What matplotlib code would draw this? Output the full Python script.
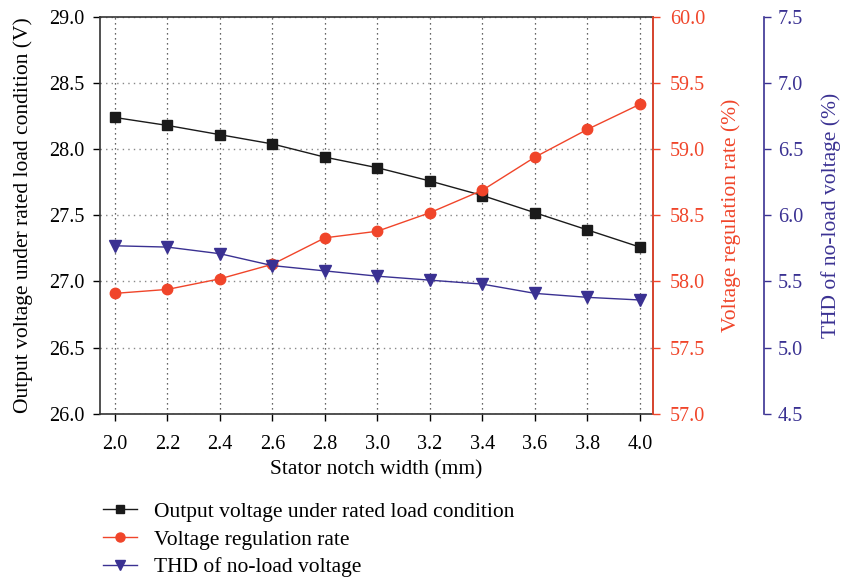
import matplotlib
matplotlib.use("Agg")
import matplotlib.pyplot as plt
from matplotlib.lines import Line2D

plt.rcParams['font.family'] = ['Liberation Serif', 'DejaVu Serif']

width = [2.0, 2.2, 2.4, 2.6, 2.8, 3.0, 3.2, 3.4, 3.6, 3.8, 4.0]
output_voltage = [28.24, 28.18, 28.11, 28.04, 27.94, 27.86, 27.76, 27.65, 27.52, 27.39, 27.26]
regulation_rate = [57.91, 57.94, 58.02, 58.13, 58.33, 58.38, 58.52, 58.69, 58.94, 59.15, 59.34]
thd = [5.77, 5.76, 5.71, 5.62, 5.58, 5.54, 5.51, 5.48, 5.41, 5.38, 5.36]

left_ticks = [26.0, 26.5, 27.0, 27.5, 28.0, 28.5, 29.0]
red_ticks = [57.0, 57.5, 58.0, 58.5, 59.0, 59.5, 60.0]
blue_ticks = [4.5, 5.0, 5.5, 6.0, 6.5, 7.0, 7.5]

labels = ["Output voltage under rated load condition",
          "Voltage regulation rate",
          "THD of no-load voltage"]

BLACK = "#1a1a1a"
RED = "#f0452a"
BLUE = "#3a3192"

fig = plt.figure(figsize=(8.45, 5.8), dpi=100)
ax = fig.add_axes([0.1183, 0.2867, 0.6545, 0.684])
ax2 = ax.twinx()
ax3 = ax.twinx()
ax3.spines['right'].set_position(('axes', 1.2007))

fs = 14.5
lfs = 15.5
ax.plot(width, output_voltage, color=BLACK, marker='s', markersize=7, lw=1.0, zorder=3)
ax2.plot(width, regulation_rate, color=RED, marker='o', markersize=7.5, lw=1.0, zorder=3)
ax3.plot(width, thd, color=BLUE, marker='v', markersize=8, lw=1.0, zorder=3)

ax.set_xlim(1.943, 4.05)
ax.set_ylim(26.0, 29.0)
ax2.set_ylim(57.0, 60.0)
ax3.set_ylim(4.5, 7.5)

ax.set_xticks(width)
ax.set_xticklabels([f"{v:.1f}" for v in width])
ax.set_yticks(left_ticks)
ax.set_yticklabels([f"{v:.1f}" for v in left_ticks])
ax2.set_yticks(red_ticks)
ax2.set_yticklabels([f"{v:.1f}" for v in red_ticks])
ax3.set_yticks(blue_ticks)
ax3.set_yticklabels([f"{v:.1f}" for v in blue_ticks])

ax.xaxis.grid(True, linestyle=(0, (1, 3)), color='#333333', lw=0.9)
ax.yaxis.grid(True, linestyle=(0, (1, 3)), color='#888888', lw=1.0)

for a in (ax, ax2, ax3):
    a.tick_params(direction='out', length=5, width=1.0, labelsize=fs, pad=6)
ax.tick_params(axis='x', pad=10)

for s in ax.spines.values():
    s.set_color('#333333')
    s.set_linewidth(1.2)

ax2.spines['right'].set_color(RED)
ax2.spines['right'].set_linewidth(1.2)
ax2.tick_params(axis='y', colors=RED, pad=7)
ax3.spines['right'].set_color(BLUE)
ax3.spines['right'].set_linewidth(1.2)
ax3.tick_params(axis='y', colors=BLUE, pad=5)
for a in (ax2, ax3):
    a.spines['left'].set_visible(False)
    a.spines['top'].set_visible(False)
    a.spines['bottom'].set_visible(False)

ax.set_xlabel("Stator notch width (mm)", fontsize=lfs, labelpad=5)
ax.set_ylabel("Output voltage under rated load condition (V)", fontsize=lfs, labelpad=12)
ax2.set_ylabel("Voltage regulation rate (%)", fontsize=lfs, color=RED, labelpad=12)
ax3.set_ylabel("THD of no-load voltage (%)", fontsize=lfs, color=BLUE, labelpad=13)

handles = [Line2D([], [], color=BLACK, marker='s', markersize=6, lw=1.0),
           Line2D([], [], color=RED, marker='o', markersize=6.5, lw=1.0),
           Line2D([], [], color=BLUE, marker='v', markersize=7, lw=1.0)]
leg = fig.legend(handles, labels, loc='upper left', frameon=False, fontsize=lfs,
                 handlelength=1.6, labelspacing=0.35, handletextpad=0.75)
leg.set_bbox_to_anchor((0.099, 0.168), transform=fig.transFigure)

fig.savefig("out.png", dpi=100)
